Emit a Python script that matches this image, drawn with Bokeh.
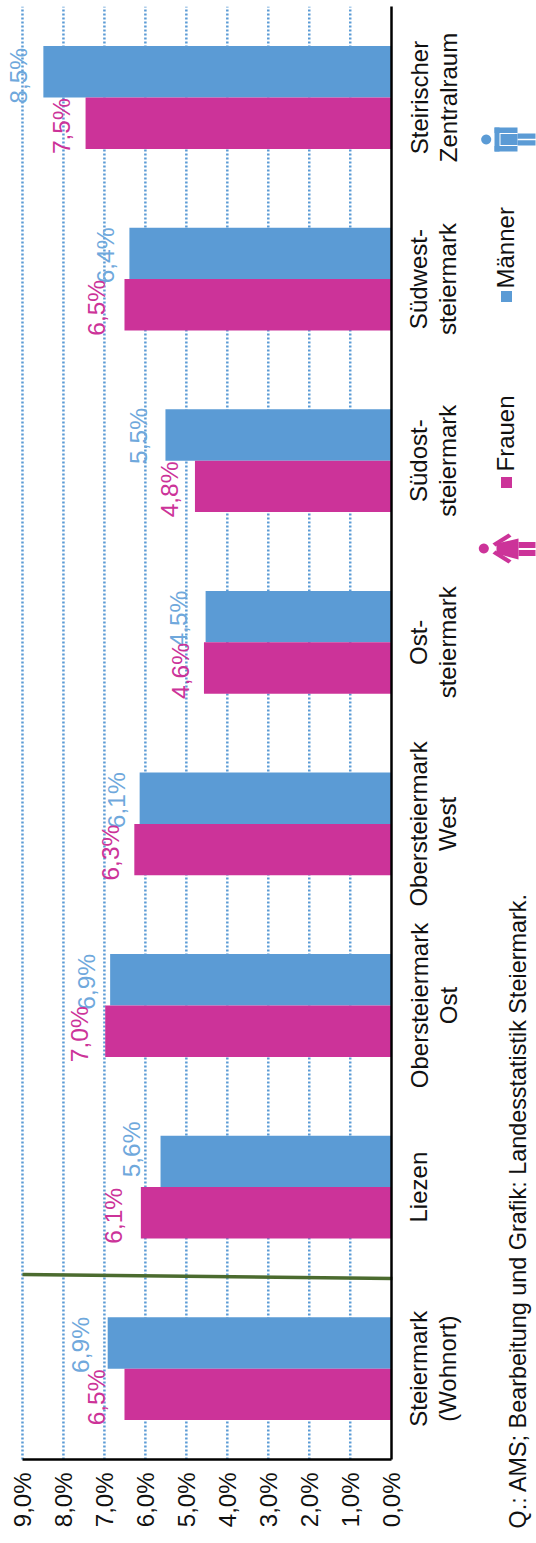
from math import pi
import numpy as np
from bokeh.core.properties import value
from bokeh.embed import file_html
from bokeh.resources import INLINE
from bokeh.plotting import figure
from bokeh.models import (ColumnDataSource, LabelSet, Label, LinearAxis, FixedTicker, Range1d)

categories = ["Steiermark\n(Wohnort)", "Liezen", "Obersteiermark\nOst", "Obersteiermark\nWest",
              "Ost-\nsteiermark", "Südost-\nsteiermark", "Südwest-\nsteiermark", "Steirischer\nZentralraum"]
maenner = [6.92, 5.63, 6.86, 6.14, 4.53, 5.51, 6.39, 8.49]
frauen = [6.51, 6.11, 6.98, 6.27, 4.57, 4.79, 6.51, 7.46]
value_ticks = [0, 1, 2, 3, 4, 5, 6, 7, 8, 9]

# hand-placed data label nudges of the reference, in pixels
nudge_x_m = [-4, -6, 0, 0, -4, -3, 0, -1]
nudge_x_f = [-4, -4, -2, 0, 0, -2, -4, -1]
nudge_y_m = [-2, 12, -2, -2, -2, -1, -2, -4]
nudge_y_f = [-3, -3, -3, -3, -3, -3, -3, -3]

BLUE = "#5b9bd5"
BLUE_T = "#6fa8dc"
PINK = "#cc3399"
FONT = "Liberation Sans"
TXT = "#111111"

X0, XS = 390.7, 40.97
Y0, YS = 1459.0, 181.6
def dx(px): return (X0 - px) / XS
def dy(py): return (Y0 - py) / YS

p = figure(width=536, height=1543, output_backend="svg", toolbar_location=None,
           x_range=Range1d(dx(0), dx(536)), y_range=Range1d(dy(1543), dy(0)),
           x_axis_location=None, y_axis_location=None, min_border=0, outline_line_color=None)
p.grid.visible = False

pos = np.arange(len(categories)) + 0.5
bw = 0.283

p.segment(x0=value_ticks[1:], x1=value_ticks[1:], y0=0, y1=8, line_color=BLUE, line_width=2.5, line_dash="2 2")
p.hbar(y=pos + bw / 2, right=maenner, left=0, height=bw, color=BLUE, line_color=None)
p.hbar(y=pos - bw / 2, right=frauen, left=0, height=bw, color=PINK, line_color=None)

ax = LinearAxis(ticker=FixedTicker(ticks=value_ticks), fixed_location=0, bounds=(0, 9),
                major_label_overrides={v: f"{v},0%" for v in value_ticks},
                major_label_orientation=pi / 2, major_label_standoff=7,
                major_label_text_font=FONT, major_label_text_font_size="24px",
                major_label_text_color=TXT, major_tick_line_color=None,
                minor_tick_line_color=None, axis_line_color="black", axis_line_width=2.5)
p.add_layout(ax, "below")
ay = LinearAxis(ticker=FixedTicker(ticks=[]), fixed_location=0, bounds=(0, 8),
                major_tick_line_color=None, minor_tick_line_color=None,
                axis_line_color="black", axis_line_width=2.5)
p.add_layout(ay, "right")

p.segment(x0=[9], y0=[dy(1274)], x1=[-0.03], y1=[dy(1278)], line_color="#4b6b2f", line_width=3.5)

for vals, off, col, nx, ny in ((maenner, bw / 2, BLUE_T, nudge_x_m, nudge_y_m),
                               (frauen, -bw / 2, PINK, nudge_x_f, nudge_y_f)):
    src = ColumnDataSource(dict(x=vals, y=list(pos + off), t=[f"{v:.1f}%".replace(".", ",") for v in vals],
                                xo=[n - 15 for n in nx], yo=ny))
    p.add_layout(LabelSet(x="x", y="y", text="t", source=src, angle=pi / 2, x_offset="xo", y_offset="yo",
                          text_align="center", text_baseline="alphabetic", text_color=col,
                          text_font=value(FONT), text_font_size="24.5px"))

# category names, line by line so that each line is centred on its category
for line, base in ((0, 427), (1, 456)):
    rows = [(pos[i], c.split("\n")[line]) for i, c in enumerate(categories) if len(c.split("\n")) > line]
    csrc = ColumnDataSource(dict(x=[dx(base)] * len(rows), y=[r[0] for r in rows], t=[r[1] for r in rows]))
    p.add_layout(LabelSet(x="x", y="y", text="t", source=csrc, angle=pi / 2, text_align="center",
                          text_baseline="alphabetic", text_color=TXT, text_font=value(FONT),
                          text_font_size="24px"))

def lab(x, y, t, col=TXT, size="24px"):
    p.add_layout(Label(x=dx(x), y=dy(y), text=t, angle=pi / 2, text_font=FONT, text_font_size=size,
                       text_color=col, text_align="left", text_baseline="alphabetic"))

lab(517, 1528, "Q.: AMS; Bearbeitung und Grafik: Landesstatistik Steiermark.", size="23.4px")
lab(505, 471, "Frauen")
lab(505, 288, "Männer")

def poly(pts, col):
    p.patch(x=[dx(a) for a, _ in pts], y=[dy(b) for _, b in pts], fill_color=col, line_color=None)

def rect(x0, x1, y0, y1, col):
    poly([(x0, y0), (x1, y0), (x1, y1), (x0, y1)], col)

def head(cx, cy, r, col):
    a = np.linspace(0, 2 * pi, 24, endpoint=False)
    poly(list(zip(cx + r * np.cos(a), cy + r * np.sin(a))), col)

rect(500.5, 511.5, 476.5, 487.5, PINK)
rect(500.5, 511.5, 290.5, 301.5, BLUE)

# woman icon
head(483.3, 548, 5, PINK)
poly([(496, 543), (518, 538), (518, 559), (496, 553)], PINK)
poly([(492, 543), (508, 533), (511, 536), (495, 546)], PINK)
poly([(492, 553), (508, 563), (511, 560), (495, 550)], PINK)
rect(518, 535, 541.5, 547.5, PINK)
rect(518, 535, 549.5, 555.5, PINK)
# man icon
head(485.7, 139, 5, BLUE)
rect(494, 517, 127, 132.5, BLUE)
rect(494, 517, 145.5, 151, BLUE)
rect(494, 499, 127, 151, BLUE)
rect(500, 517, 133.5, 144.5, BLUE)
rect(517, 535, 133, 138.2, BLUE)
rect(517, 535, 139.8, 145, BLUE)

open("out.html", "w").write(file_html(p, INLINE))
